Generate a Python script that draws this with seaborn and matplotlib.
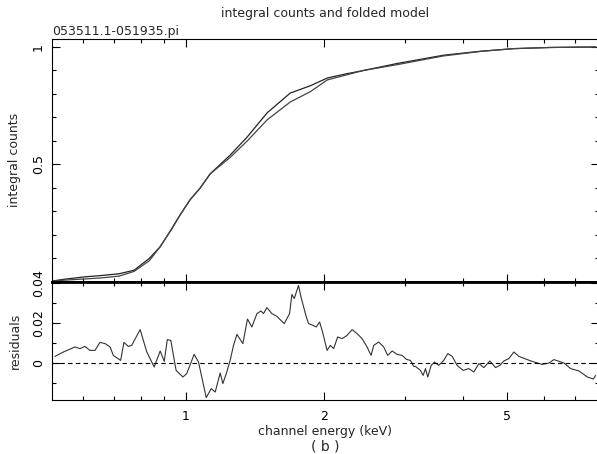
import numpy as np
import pandas as pd
import matplotlib
matplotlib.use('Agg')
import matplotlib.pyplot as plt
from matplotlib.ticker import FixedLocator, NullFormatter, FixedFormatter
import seaborn as sns

sns.set_style('ticks')
plt.rcParams['font.family'] = ['DejaVu Sans']

# integral counts (data and folded model), energy in keV
energy_cum = [0.513, 0.547, 0.605, 0.652, 0.717, 0.773, 0.834, 0.881, 0.929, 0.973,
              1.023, 1.076, 1.131, 1.189, 1.250, 1.361, 1.504, 1.688, 1.866, 2.032,
              2.223, 2.433, 2.884, 3.631, 4.370, 5.155, 6.203, 7.770]
counts_data = [0.004, 0.012, 0.022, 0.027, 0.035, 0.050, 0.100, 0.150, 0.220, 0.285,
               0.350, 0.400, 0.460, 0.500, 0.540, 0.617, 0.720, 0.804, 0.835, 0.868,
               0.885, 0.900, 0.930, 0.965, 0.982, 0.993, 0.998, 1.000]
counts_model = [0.004, 0.008, 0.013, 0.017, 0.025, 0.045, 0.090, 0.150, 0.220, 0.285,
                0.350, 0.400, 0.460, 0.495, 0.530, 0.600, 0.690, 0.766, 0.810, 0.860,
                0.880, 0.900, 0.925, 0.962, 0.981, 0.993, 0.998, 1.000]

# residuals
energy_res = [0.5205, 0.543, 0.5754, 0.590, 0.605, 0.620, 0.636, 0.652, 0.669, 0.686,
              0.697, 0.723, 0.735, 0.751, 0.764, 0.797, 0.824, 0.855, 0.881, 0.899,
              0.913, 0.929, 0.954, 0.987, 1.006, 1.044, 1.067, 1.109, 1.137, 1.160,
              1.189, 1.205, 1.226, 1.250, 1.271, 1.293, 1.332, 1.363, 1.393, 1.429,
              1.458, 1.477, 1.502, 1.540, 1.579, 1.638, 1.682, 1.702, 1.722, 1.759,
              1.781, 1.829, 1.850, 1.891, 1.922, 1.955, 1.988, 2.029, 2.062, 2.097,
              2.139, 2.187, 2.242, 2.299, 2.357, 2.417, 2.478, 2.528, 2.562, 2.626,
              2.693, 2.748, 2.809, 2.880, 2.953, 3.017, 3.078, 3.129, 3.156, 3.236,
              3.280, 3.318, 3.357, 3.414, 3.471, 3.546, 3.636, 3.709, 3.792, 3.888,
              4.007, 4.121, 4.226, 4.333, 4.443, 4.578, 4.710, 4.813, 4.910, 5.035,
              5.162, 5.293, 5.521, 5.706, 5.951, 6.151, 6.307, 6.630, 6.857, 7.146,
              7.454, 7.681, 7.770]
resid = [0.0033, 0.0055, 0.0080, 0.0072, 0.0083, 0.0063, 0.0063, 0.0103, 0.0097, 0.0080,
         0.0038, 0.0013, 0.0103, 0.0083, 0.0088, 0.0167, 0.0055, -0.0020, 0.0060, 0.0008,
         0.0117, 0.0113, -0.0037, -0.0070, -0.0053, 0.0043, 0.0005, -0.0173, -0.0128, -0.0145,
         -0.0050, -0.0103, -0.0053, 0.0013, 0.0088, 0.0143, 0.0097, 0.0220, 0.0180, 0.0247,
         0.0260, 0.0247, 0.0277, 0.0247, 0.0233, 0.0197, 0.0247, 0.0343, 0.0322, 0.0388,
         0.0330, 0.0230, 0.0197, 0.0188, 0.0180, 0.0205, 0.0147, 0.0063, 0.0088, 0.0072,
         0.0130, 0.0122, 0.0138, 0.0167, 0.0147, 0.0122, 0.0080, 0.0038, 0.0088, 0.0105,
         0.0080, 0.0038, 0.0060, 0.0043, 0.0038, 0.0018, 0.0013, -0.0017, -0.0017, -0.0037,
         -0.0062, -0.0028, -0.0070, -0.0012, 0.0005, -0.0012, 0.0013, 0.0047, 0.0033, -0.0012,
         -0.0037, -0.0028, -0.0045, -0.0003, -0.0023, 0.0010, -0.0023, -0.0012, 0.0010, 0.0022,
         0.0055, 0.0033, 0.0017, 0.0005, -0.0007, 0.0000, 0.0017, 0.0000, -0.0028, -0.0040,
         -0.0070, -0.0080, -0.0062]

cum = pd.DataFrame({'energy': energy_cum, 'data': counts_data, 'model': counts_model})
res = pd.DataFrame({'energy': energy_res, 'resid': resid})

W, H = 597, 454
fig = plt.figure(figsize=(W/100, H/100), dpi=100)
# right edge sits just past the crop, as in the original figure
ax1 = fig.add_axes([52/W, 1-282/H, 547/W, (282-39)/H])
ax2 = fig.add_axes([52/W, 1-400/H, 547/W, (400-282)/H])

sns.lineplot(data=cum, x='energy', y='data', ax=ax1, color='#222222', lw=0.9,
             estimator=None, sort=False)
sns.lineplot(data=cum, x='energy', y='model', ax=ax1, color='#444444', lw=0.9,
             estimator=None, sort=False)
sns.lineplot(data=res, x='energy', y='resid', ax=ax2, color='#333333', lw=0.8,
             estimator=None, sort=False)
ax2.axhline(0, color='black', lw=0.8, ls=(0, (4, 3)))

fs = 9
xmaj = [1, 2, 5]
xmin = [0.6, 0.7, 0.8, 0.9, 3, 4, 6, 7]
for ax in (ax1, ax2):
    ax.set_xscale('log')
    ax.set_xlim(0.513, 7.9)
    ax.xaxis.set_major_locator(FixedLocator(xmaj))
    ax.xaxis.set_minor_locator(FixedLocator(xmin))
    ax.xaxis.set_minor_formatter(NullFormatter())
    ax.tick_params(which='both', direction='in', top=True, right=True, color='black',
                   labelsize=fs, labelcolor='black')
    ax.tick_params(axis='y', pad=5)
    ax.tick_params(axis='x', pad=7)
    ax.tick_params(which='major', length=5.5, width=0.8)
    ax.tick_params(which='minor', length=3, width=0.8)
    for s in ax.spines.values():
        s.set_color('black')
        s.set_linewidth(0.8)
    ax.set_xlabel('')
    ax.set_ylabel('')

ax1.set_ylim(0, 1.034)
ax1.yaxis.set_major_locator(FixedLocator([0, 0.5, 1]))
ax1.yaxis.set_major_formatter(FixedFormatter(['', '0.5', '1']))
ax1.yaxis.set_minor_locator(FixedLocator(np.arange(0.1, 1.0, 0.1)))
ax1.xaxis.set_major_formatter(NullFormatter())
ax1.spines['bottom'].set_linewidth(2)

ax2.set_ylim(-0.0185, 0.0405)
ax2.yaxis.set_major_locator(FixedLocator([0, 0.02, 0.04]))
ax2.yaxis.set_major_formatter(FixedFormatter(['0', '0.02', '0.04']))
ax2.yaxis.set_minor_locator(FixedLocator([-0.01, 0.01, 0.03]))
ax2.xaxis.set_major_formatter(FixedFormatter(['1', '2', '5']))
ax2.spines['top'].set_linewidth(2)

for ax in (ax1, ax2):
    for lab in ax.get_yticklabels():
        lab.set_rotation(90)
        lab.set_va('center')

fig.text(325/W, 1-13/H, 'integral counts and folded model', ha='center', va='center', fontsize=fs)
fig.text(52/W, 1-31/H, '053511.1-051935.pi', ha='left', va='center', fontsize=fs)
fig.text(15/W, 1-160/H, 'integral counts', rotation=90, ha='center', va='center', fontsize=fs)
fig.text(15/W, 1-341/H, 'residuals', rotation=90, ha='center', va='center', fontsize=fs)
fig.text(325/W, 1-431/H, 'channel energy (keV)', ha='center', va='center', fontsize=fs)
fig.text(325/W, 1-446/H, '( b )', ha='center', va='center', fontsize=fs + 1)

fig.savefig('out.png', dpi=100)
